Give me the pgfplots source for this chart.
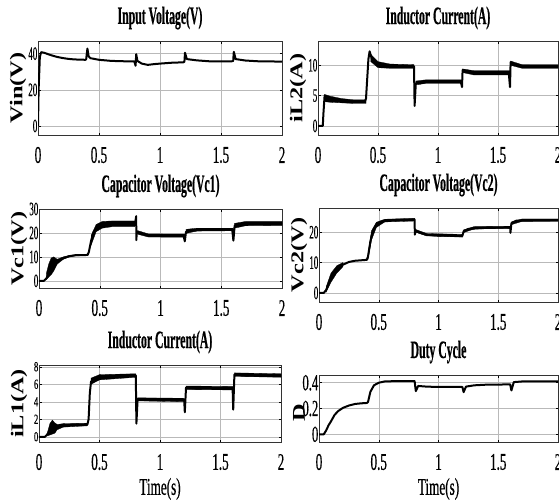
\documentclass[border=0pt]{standalone}
\usepackage{pgfplots}
\pgfplotsset{compat=1.18}
\usepackage{fontspec}
\setmainfont{Liberation Serif}
\newfontfamily\fx[FakeStretch=0.55,FakeBold=0.4]{Liberation Serif}
\newfontfamily\fy[FakeStretch=0.47,FakeBold=0.4]{Liberation Serif}
\newfontfamily\fyy[FakeStretch=0.62,FakeBold=0.4]{Liberation Serif}
\newfontfamily\ft[FakeStretch=0.47,FakeBold=0.5]{Liberation Serif}
\newfontfamily\fl[FakeStretch=1.35]{Liberation Serif}
\pgfplotsset{
  panel/.style={
    scale only axis,
    xmin=0, xmax=2,
    xtick={0,0.5,1,1.5,2},
    xticklabels={0,0.5,1,1.5,2},
    grid=major,
    major grid style={gray!55, line width=0.5pt},
    axis line style={line width=0.7pt, black!80},
    tick align=inside,
    major tick length=2.5pt,
    tick style={black, line width=0.5pt},
    /pgf/number format/assume math mode=true,
    xticklabel style={font=\fx\fontsize{24}{24}\selectfont, anchor=center, inner sep=0pt, yshift=-20pt},
    yticklabel style={font=\fy\fontsize{19}{19}\selectfont, anchor=east, inner sep=0pt, xshift=-0.5pt},
    title style={font=\ft\bfseries\fontsize{25}{25}\selectfont, at={(axis description cs:0.5,1)}, anchor=center, yshift=17pt, inner sep=0pt},
    every axis y label/.style={at={(axis description cs:0,0.5)}, xshift=-20pt, rotate=90, anchor=center, font=\fl\bfseries\fontsize{18}{18}\selectfont, inner sep=0pt},
    every axis x label/.style={at={(axis description cs:0.5,0)}, yshift=-47pt, anchor=center, font=\fx\fontsize{24}{24}\selectfont, inner sep=0pt},
  },
  sig/.style={black, line width=2pt, line join=round},
  band/.style={fill=black, draw=black, line width=0.3pt},
}
\begin{document}
\begin{tikzpicture}
\path[use as bounding box] (0,0) rectangle (559pt,-499pt);
% ---------------- Input voltage
\begin{axis}[panel, at={(38pt,-41pt)}, anchor=north west, width=244pt, height=94pt,
  ymin=-5, ymax=47, ytick={0,20,40}, title={Input Voltage(V)}, ylabel={Vin(V)}]
\addplot[sig] coordinates {(0,0) (0.005,20) (0.015,38) (0.025,40.8) (0.05,40.5) (0.1,39.3) (0.15,38.3) (0.2,37.6) (0.25,37.1) (0.3,36.8) (0.39,36.6) (0.395,37) (0.405,42.8) (0.415,38.5) (0.43,37.5) (0.5,36.6) (0.6,36) (0.7,35.8) (0.79,35.7) (0.8,33.3) (0.805,39.7) (0.815,36) (0.85,34.5) (0.9,33.8) (0.95,34.2) (1.0,34.5) (1.1,35) (1.19,35.2) (1.2,35.5) (1.205,40.5) (1.22,37) (1.3,36.3) (1.4,35.8) (1.59,35.8) (1.6,36) (1.605,41) (1.62,37) (1.7,36.2) (1.8,35.8) (2,35.6)};
\end{axis}
% ---------------- iL2
\begin{axis}[panel, at={(318pt,-41pt)}, anchor=north west, width=240pt, height=94pt,
  ymin=-1.5, ymax=14, ytick={0,5,10}, title={Inductor Current(A)}, ylabel={iL2(A)}]
\addplot[band] coordinates {(0.055,5.2) (0.1,4.9) (0.2,4.5) (0.3,4.3) (0.4,4.3) (0.4,3.7) (0.3,3.7) (0.2,3.8) (0.1,3.9) (0.055,4.0)} -- cycle;
\addplot[band] coordinates {(0.44,11.8) (0.5,10.6) (0.6,10.2) (0.8,10.1) (0.8,9.5) (0.6,9.5) (0.5,9.6) (0.44,10.6)} -- cycle;
\addplot[band] coordinates {(0.815,7.4) (0.9,7.6) (1.2,7.6) (1.2,7.0) (0.9,7.0) (0.815,6.8)} -- cycle;
\addplot[band] coordinates {(1.205,9.4) (1.3,9.1) (1.6,9.1) (1.6,8.4) (1.3,8.4) (1.205,8.8)} -- cycle;
\addplot[band] coordinates {(1.605,10.7) (1.7,10.1) (2,10.1) (2,9.5) (1.7,9.5) (1.605,10.0)} -- cycle;
\addplot[sig] coordinates {(0,0) (0.04,0) (0.045,2) (0.055,5) (0.07,4.7) (0.1,4.5) (0.15,4.3) (0.2,4.1) (0.3,4) (0.39,4) (0.4,4.5) (0.42,11) (0.43,12.3) (0.45,11) (0.5,10.2) (0.55,10) (0.6,9.9) (0.79,9.8) (0.8,9.8) (0.805,3.3) (0.815,7) (0.85,7) (0.9,7.3) (1.0,7.3) (1.19,7.3) (1.2,6.4) (1.205,9.2) (1.25,9.0) (1.3,8.8) (1.59,8.7) (1.6,6.4) (1.605,10.5) (1.63,10.1) (1.7,9.9) (2,9.8)};
\end{axis}
% ---------------- Vc1
\begin{axis}[panel, at={(39pt,-209pt)}, anchor=north west, width=243pt, height=79pt,
  ymin=-3, ymax=30, ytick={0,10,20,30}, title={Capacitor Voltage(Vc1)}, ylabel={Vc1(V)}]
\addplot[band] coordinates {(0.06,3) (0.08,7) (0.1,9.5) (0.12,10) (0.15,9) (0.2,10) (0.25,10.6) (0.3,10.9) (0.4,11) (0.4,10.5) (0.3,10.4) (0.25,10) (0.2,9) (0.15,7) (0.12,4) (0.1,2.5) (0.08,1.5) (0.06,0.5)} -- cycle;
\addplot[band] coordinates {(0.43,19) (0.47,23.5) (0.52,24.8) (0.6,25) (0.79,25) (0.79,22.6) (0.6,22.6) (0.52,22) (0.47,20.5) (0.43,15)} -- cycle;
\addplot[band] coordinates {(0.81,21) (0.9,19.6) (1.2,19.5) (1.2,18.2) (0.9,18.3) (0.81,19.5)} -- cycle;
\addplot[band] coordinates {(1.21,21.5) (1.3,22) (1.6,22) (1.6,20.9) (1.3,20.8) (1.21,19.8)} -- cycle;
\addplot[band] coordinates {(1.61,24) (1.7,24.8) (2,24.8) (2,23.1) (1.7,23) (1.61,22)} -- cycle;
\addplot[sig] coordinates {(0,0) (0.04,0) (0.06,1) (0.08,3) (0.1,5.5) (0.12,7) (0.15,8) (0.2,9.5) (0.25,10.3) (0.3,10.7) (0.4,10.8) (0.41,12) (0.43,17) (0.45,20.5) (0.48,22.5) (0.52,23.3) (0.6,23.7) (0.79,23.8) (0.8,27) (0.801,17) (0.805,20.5) (0.83,19.8) (0.9,19) (1.0,18.8) (1.19,18.8) (1.2,16.5) (1.21,20.5) (1.25,21) (1.4,21.4) (1.59,21.5) (1.6,16.8) (1.61,23) (1.65,23.6) (2,24)};
\end{axis}
% ---------------- Vc2
\begin{axis}[panel, at={(319pt,-208pt)}, anchor=north west, width=239pt, height=94pt,
  ymin=-3, ymax=28, ytick={0,10,20}, title={Capacitor Voltage(Vc2)}, ylabel={Vc2(V)}]
\addplot[band] coordinates {(0.06,2) (0.1,6.5) (0.15,9) (0.2,10) (0.2,8.6) (0.15,6.6) (0.1,3.5) (0.06,0.3)} -- cycle;
\addplot[band] coordinates {(0.41,13) (0.44,20.5) (0.48,23.3) (0.55,24.3) (0.8,24.6) (0.8,23.7) (0.55,23.4) (0.48,21.6) (0.44,17.5) (0.41,11)} -- cycle;
\addplot[band] coordinates {(0.81,20.9) (0.9,19.6) (1.2,19.3) (1.2,18.4) (0.9,18.8) (0.81,20)} -- cycle;
\addplot[band] coordinates {(1.21,20.8) (1.3,21.9) (1.6,22) (1.6,21.2) (1.3,21.1) (1.21,19.9)} -- cycle;
\addplot[band] coordinates {(1.61,23.4) (1.7,24.4) (2,24.4) (2,23.6) (1.7,23.6) (1.61,22.5)} -- cycle;
\addplot[sig] coordinates {(0,0) (0.04,0) (0.06,1) (0.08,3) (0.1,5) (0.15,7.8) (0.2,9.3) (0.25,10.2) (0.3,10.6) (0.4,10.9) (0.41,12) (0.43,17) (0.45,20.5) (0.48,22.5) (0.52,23.5) (0.6,24) (0.8,24.2) (0.802,19.2) (0.81,20.5) (0.85,19.8) (0.9,19.2) (1,18.9) (1.2,18.8) (1.21,20.3) (1.25,21.1) (1.4,21.5) (1.6,21.6) (1.602,19.8) (1.61,23) (1.65,23.8) (2,24)};
\end{axis}
% ---------------- iL1
\begin{axis}[panel, at={(39pt,-365pt)}, anchor=north west, width=242pt, height=77pt,
  ymin=-0.6, ymax=8.2, ytick={0,2,4,6,8}, title={Inductor Current(A)}, ylabel={iL1(A)}, xlabel={Time(s)},
  yticklabel style={font=\fyy\fontsize{14}{14}\selectfont}]
\addplot[band] coordinates {(0.07,0.5) (0.09,1.5) (0.11,1.9) (0.13,1.6) (0.15,1.4) (0.2,1.5) (0.4,1.55) (0.4,1.25) (0.2,1.1) (0.15,0.8) (0.13,0.4) (0.11,0.3) (0.09,0.2) (0.07,0.1)} -- cycle;
\addplot[band] coordinates {(0.43,6.7) (0.5,7.1) (0.8,7.2) (0.8,6.8) (0.5,6.5) (0.43,6.0)} -- cycle;
\addplot[band] coordinates {(0.815,4.45) (1.2,4.4) (1.2,4.0) (0.815,4.1)} -- cycle;
\addplot[band] coordinates {(1.215,5.8) (1.6,5.75) (1.6,5.35) (1.215,5.4)} -- cycle;
\addplot[band] coordinates {(1.615,7.3) (2,7.2) (2,6.8) (1.615,6.9)} -- cycle;
\addplot[sig] coordinates {(0,0) (0.05,0) (0.07,0.3) (0.1,0.9) (0.15,1.1) (0.2,1.3) (0.3,1.4) (0.4,1.4) (0.41,2) (0.42,5) (0.43,6.3) (0.46,6.6) (0.5,6.8) (0.6,6.95) (0.8,7) (0.805,1.5) (0.815,4.3) (0.9,4.25) (1.2,4.2) (1.205,2.8) (1.215,5.6) (1.3,5.5) (1.6,5.6) (1.605,3.1) (1.615,7.1) (1.7,7) (2,7)};
\end{axis}
% ---------------- D
\begin{axis}[panel, at={(319pt,-375pt)}, anchor=north west, width=239pt, height=67pt,
  ymin=-0.06, ymax=0.46, ytick={0,0.2,0.4}, yticklabels={0,0.2,0.4}, title={Duty Cycle}, ylabel={D}, xlabel={Time(s)},
  yticklabel style={font=\fx\fontsize{23}{23}\selectfont},
  ylabel style={xshift=-4pt}]
\addplot[sig] coordinates {(0,0) (0.04,0) (0.06,0.03) (0.08,0.07) (0.1,0.1) (0.13,0.15) (0.16,0.18) (0.2,0.205) (0.25,0.223) (0.3,0.235) (0.35,0.24) (0.4,0.243) (0.41,0.25) (0.43,0.33) (0.46,0.38) (0.5,0.4) (0.55,0.41) (0.65,0.413) (0.8,0.413) (0.81,0.335) (0.83,0.375) (0.9,0.37) (1.0,0.367) (1.2,0.367) (1.21,0.327) (1.23,0.37) (1.3,0.38) (1.4,0.385) (1.6,0.387) (1.61,0.34) (1.63,0.405) (1.7,0.41) (2,0.41)};
\end{axis}
\end{tikzpicture}
\end{document}
